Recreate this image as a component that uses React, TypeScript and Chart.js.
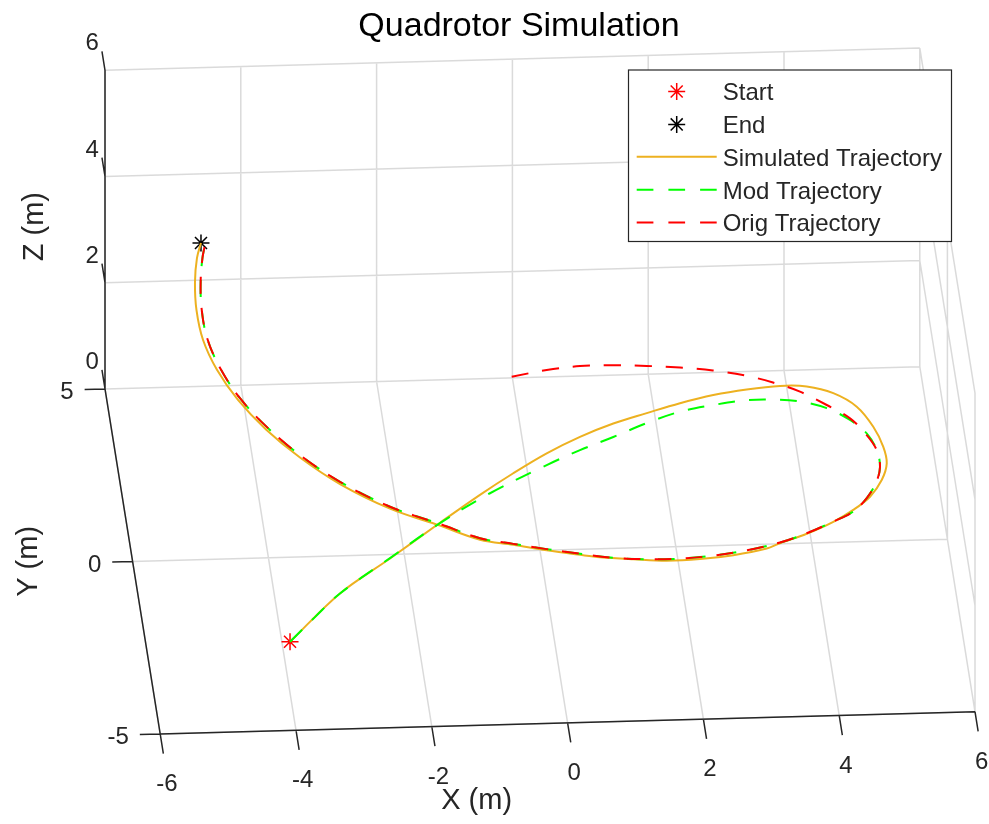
import React, { useEffect, useRef } from 'react';
import { Chart, registerables } from 'chart.js';

Chart.register(...registerables);

const W = 989;
const H = 824;
const FONT = '"Liberation Sans", Arial, Helvetica, sans-serif';

// ---------- texts ----------
const chartTitle = 'Quadrotor Simulation';
const xLabel = 'X (m)';
const yLabel = 'Y (m)';
const zLabel = 'Z (m)';
const legendLabels = ['Start', 'End', 'Simulated Trajectory', 'Mod Trajectory', 'Orig Trajectory'];

// ---------- axes ----------
const xLim = [-6, 6];
const yLim = [-5, 5];
const zLim = [0, 6];
const xTicks = [-6, -4, -2, 0, 2, 4, 6];
const yTicks = [-5, 0, 5];
const zTicks = [0, 2, 4, 6];

// ---------- data (metres) ----------
const startPoint = [-3.88, -2.441, 0];
const endPoint = [-4.624, 4.538, 3.0];

const origX = [-0.07, 0.451, 0.941, 1.42, 1.905, 2.382, 2.85, 3.324, 3.687, 4.054, 4.407, 4.71, 4.908, 5.012, 5.013, 4.909, 4.729, 4.493, 4.169, 3.744, 3.323, 2.809, 2.3, 1.797, 1.3, 0.806, 0.318, -0.167, -0.652, -1.134, -1.695, -2.395, -3.077, -3.609, -4.038, -4.37, -4.601, -4.728, -4.746, -4.7, -4.63, -4.582];
const origY = [4.266, 4.338, 4.334, 4.244, 4.103, 3.937, 3.72, 3.447, 3.14, 2.765, 2.267, 1.771, 1.183, 0.648, 0.07, -0.49, -1.018, -1.488, -1.854, -2.262, -2.6, -2.892, -3.109, -3.263, -3.345, -3.368, -3.334, -3.266, -3.18, -3.083, -2.732, -2.287, -1.62, -0.911, -0.162, 0.594, 1.382, 2.165, 2.941, 3.656, 4.196, 4.419];
const origZ = [0.5, 0.56, 0.62, 0.68, 0.74, 0.8, 0.87, 0.93, 0.99, 1.05, 1.11, 1.17, 1.23, 1.29, 1.35, 1.42, 1.48, 1.54, 1.6, 1.66, 1.72, 1.78, 1.84, 1.9, 1.96, 2.02, 2.09, 2.15, 2.21, 2.27, 2.33, 2.39, 2.45, 2.51, 2.57, 2.63, 2.7, 2.76, 2.82, 2.88, 2.94, 3.0];

const modX = [-3.88, -3.465, -3.052, -2.245, -1.439, -0.644, 0.245, 0.759, 1.27, 1.782, 2.289, 2.784, 3.276, 3.659, 4.036, 4.403, 4.708, 4.913, 5.012, 5.013, 4.909, 4.729, 4.493, 4.169, 3.744, 3.323, 2.809, 2.3, 1.797, 1.3, 0.806, 0.318, -0.167, -0.652, -1.134, -1.695, -2.395, -3.077, -3.609, -4.038, -4.37, -4.601, -4.728, -4.746, -4.7, -4.63, -4.582];
const modY = [-2.441, -1.858, -1.304, -0.443, 0.417, 1.134, 1.796, 2.093, 2.34, 2.591, 2.789, 2.846, 2.854, 2.743, 2.543, 2.221, 1.755, 1.248, 0.648, 0.07, -0.49, -1.018, -1.488, -1.854, -2.262, -2.6, -2.892, -3.109, -3.263, -3.345, -3.368, -3.334, -3.266, -3.18, -3.083, -2.732, -2.287, -1.62, -0.911, -0.162, 0.594, 1.382, 2.165, 2.941, 3.656, 4.196, 4.419];
const modZ = [0, 0.07, 0.14, 0.22, 0.29, 0.36, 0.43, 0.5, 0.57, 0.65, 0.72, 0.79, 0.86, 0.93, 1.01, 1.08, 1.15, 1.22, 1.29, 1.35, 1.42, 1.48, 1.54, 1.6, 1.66, 1.72, 1.78, 1.84, 1.9, 1.96, 2.02, 2.09, 2.15, 2.21, 2.27, 2.33, 2.39, 2.45, 2.51, 2.57, 2.63, 2.7, 2.76, 2.82, 2.88, 2.94, 3.0];

const simX = [-3.88, -3.043, -2.236, -1.429, -0.786, -0.256, 0.272, 0.79, 1.301, 1.806, 2.308, 2.807, 3.301, 3.789, 4.169, 4.535, 4.838, 5.025, 5.116, 5.12, 5.0, 4.782, 4.498, 4.17, 3.744, 3.323, 3.109, 2.597, 2.091, 1.592, 1.098, 0.607, 0.312, -0.173, -0.658, -1.14, -1.701, -2.402, -3.085, -3.617, -4.057, -4.406, -4.651, -4.793, -4.825, -4.789, -4.711, -4.624];
const simY = [-2.441, -1.194, -0.333, 0.536, 1.203, 1.693, 2.133, 2.476, 2.727, 2.879, 3.032, 3.135, 3.163, 3.13, 2.971, 2.649, 2.134, 1.434, 0.739, 0.166, -0.402, -0.965, -1.425, -1.846, -2.262, -2.605, -2.823, -3.081, -3.261, -3.373, -3.397, -3.404, -3.411, -3.346, -3.251, -3.156, -2.811, -2.371, -1.715, -1.009, -0.265, 0.519, 1.311, 2.097, 2.878, 3.597, 4.198, 4.538];
const simZ = [0, 0.07, 0.14, 0.22, 0.29, 0.36, 0.43, 0.5, 0.57, 0.65, 0.72, 0.79, 0.86, 0.93, 1.01, 1.08, 1.15, 1.22, 1.29, 1.35, 1.41, 1.47, 1.53, 1.59, 1.65, 1.71, 1.76, 1.82, 1.88, 1.94, 2.0, 2.06, 2.12, 2.18, 2.24, 2.29, 2.35, 2.41, 2.47, 2.53, 2.59, 2.65, 2.71, 2.77, 2.82, 2.88, 2.94, 3.0];

// ---------- 3D view (orthographic camera, world -> page units) ----------
const VIEW = {
  origin: [540, 550.3],
  ex: [67.9, -1.85],
  ey: [-5.52, -34.5],
  ez: [0, -53.1],
};
const project = (x: number, y: number, z: number) => ({
  x: VIEW.origin[0] + x * VIEW.ex[0] + y * VIEW.ey[0] + z * VIEW.ez[0],
  y: VIEW.origin[1] + x * VIEW.ex[1] + y * VIEW.ey[1] + z * VIEW.ez[1],
});

const X_TICK_LEN = 0.57; // in y units
const Y_TICK_LEN = 0.3; // in x units
const Z_TICK_LEN = 0.55; // in y units

type P3 = [number, number, number];
const GAP = { x: NaN, y: NaN };
const segData = (segs: [P3, P3][]) =>
  segs.flatMap(([a, b]) => [project(a[0], a[1], a[2]), project(b[0], b[1], b[2]), GAP]);

const curve = (xs: number[], ys: number[], zs: number[]) => xs.map((x, i) => project(x, ys[i], zs[i]));

function buildGrid(): [P3, P3][] {
  const [x0, x1] = xLim, [y0, y1] = yLim, [z0, z1] = zLim;
  const s: [P3, P3][] = [];
  xTicks.forEach((x) => s.push([[x, y0, z0], [x, y1, z0]]));
  yTicks.forEach((y) => s.push([[x0, y, z0], [x1, y, z0]]));
  xTicks.forEach((x) => s.push([[x, y1, z0], [x, y1, z1]]));
  zTicks.forEach((z) => s.push([[x0, y1, z], [x1, y1, z]]));
  yTicks.forEach((y) => s.push([[x1, y, z0], [x1, y, z1]]));
  zTicks.forEach((z) => s.push([[x1, y0, z], [x1, y1, z]]));
  return s;
}

function buildAxes(): [P3, P3][] {
  const [x0, x1] = xLim, [y0, y1] = yLim, [z0, z1] = zLim;
  const s: [P3, P3][] = [
    [[x0, y0, z0], [x1, y0, z0]],
    [[x0, y0, z0], [x0, y1, z0]],
    [[x0, y1, z0], [x0, y1, z1]],
  ];
  xTicks.forEach((x) => s.push([[x, y0, z0], [x, y0 - X_TICK_LEN, z0]]));
  yTicks.forEach((y) => s.push([[x0, y, z0], [x0 - Y_TICK_LEN, y, z0]]));
  zTicks.forEach((z) => s.push([[x0, y1, z], [x0, y1 + Z_TICK_LEN, z]]));
  return s;
}

const COLORS = {
  start: '#FF0000',
  end: '#000000',
  sim: '#EDB120',
  mod: '#00FF00',
  orig: '#FF0000',
  axis: '#262626',
  grid: 'rgba(38,38,38,0.17)',
};
const DASH = [17, 14];

function drawStar(ctx: CanvasRenderingContext2D, x: number, y: number, r: number, color: string) {
  ctx.save();
  ctx.strokeStyle = color;
  ctx.lineWidth = 1.5;
  ctx.beginPath();
  for (let k = 0; k < 4; k++) {
    const a = (k * Math.PI) / 4;
    ctx.moveTo(x - r * Math.cos(a), y - r * Math.sin(a));
    ctx.lineTo(x + r * Math.cos(a), y + r * Math.sin(a));
  }
  ctx.stroke();
  ctx.restore();
}

const textPlugin = {
  id: 'axes3dText',
  afterDraw(chart: any) {
    const ctx: CanvasRenderingContext2D = chart.ctx;
    const sx = chart.scales.x;
    const sy = chart.scales.y;
    const px = (p: { x: number; y: number }) => [sx.getPixelForValue(p.x), sy.getPixelForValue(p.y)];
    const area = chart.chartArea;
    ctx.save();
    ctx.fillStyle = COLORS.axis;

    // tick labels
    ctx.font = `24px ${FONT}`;
    ctx.textAlign = 'center';
    ctx.textBaseline = 'middle';
    xTicks.forEach((v) => {
      const [a, b] = px(project(v, yLim[0] - X_TICK_LEN, zLim[0]));
      ctx.fillText(String(v), a + 3.5, b + 31);
    });
    ctx.textAlign = 'right';
    yTicks.forEach((v) => {
      const [a, b] = px(project(xLim[0] - Y_TICK_LEN, v, zLim[0]));
      ctx.fillText(String(v), a - 11, b + 3);
    });
    zTicks.forEach((v) => {
      const [a, b] = px(project(xLim[0], yLim[1] + Z_TICK_LEN, v));
      ctx.fillText(String(v), a - 3, b - 7.5);
    });

    // axis labels
    ctx.font = `29px ${FONT}`;
    ctx.textAlign = 'center';
    {
      const [a, b] = px(project(0, yLim[0], zLim[0]));
      ctx.fillText(xLabel, a - 91, b + 78);
    }
    {
      const [a, b] = px(project(xLim[0], 0, zLim[0]));
      ctx.save();
      ctx.translate(a - 104, b);
      ctx.rotate(-Math.PI / 2);
      ctx.fillText(yLabel, 0, 0);
      ctx.restore();
    }
    {
      const [a, b] = px(project(xLim[0], yLim[1], 3));
      ctx.save();
      ctx.translate(a - 70, b - 3);
      ctx.rotate(-Math.PI / 2);
      ctx.fillText(zLabel, 0, 0);
      ctx.restore();
    }

    // title
    ctx.fillStyle = '#000';
    ctx.font = `34px ${FONT}`;
    ctx.textAlign = 'center';
    ctx.textBaseline = 'alphabetic';
    ctx.fillText(chartTitle, area.left + 519, area.top + 36);

    // legend
    const lx = area.left + 628.5, ly = area.top + 70, lw = 323, lh = 171.5;
    ctx.fillStyle = '#fff';
    ctx.fillRect(lx, ly, lw, lh);
    ctx.strokeStyle = COLORS.axis;
    ctx.lineWidth = 1.2;
    ctx.strokeRect(lx, ly, lw, lh);
    const rowY = (i: number) => ly + 21.5 + 32.9 * i;
    const s0 = lx + 8.2, s1 = lx + 88.2, sm = (s0 + s1) / 2;
    drawStar(ctx, sm, rowY(0), 8.5, COLORS.start);
    drawStar(ctx, sm, rowY(1), 8.5, COLORS.end);
    const sample = (i: number, color: string, dash: number[]) => {
      ctx.save();
      ctx.strokeStyle = color;
      ctx.lineWidth = 2;
      ctx.setLineDash(dash);
      ctx.beginPath();
      ctx.moveTo(s0, rowY(i) - 0.5);
      ctx.lineTo(s1, rowY(i) - 0.5);
      ctx.stroke();
      ctx.restore();
    };
    sample(2, COLORS.sim, []);
    sample(3, COLORS.mod, [16.7, 15]);
    sample(4, COLORS.orig, [16.7, 15]);
    ctx.fillStyle = COLORS.axis;
    ctx.font = `24px ${FONT}`;
    ctx.textAlign = 'left';
    ctx.textBaseline = 'alphabetic';
    legendLabels.forEach((t, i) => ctx.fillText(t, lx + 94.2, rowY(i) + 8.3));

    ctx.restore();
  },
};

export default function App() {
  const ref = useRef<HTMLCanvasElement>(null);

  useEffect(() => {
    if (!ref.current) return;
    const lineBase = { showLine: true, pointRadius: 0, pointHoverRadius: 0, fill: false };
    const chart = new Chart(ref.current, {
      type: 'scatter',
      data: {
        datasets: [
          {
            ...lineBase,
            label: 'grid',
            data: segData(buildGrid()),
            borderColor: COLORS.grid,
            borderWidth: 1.5,
            tension: 0,
            order: 9,
          },
          {
            ...lineBase,
            label: 'axes',
            data: segData(buildAxes()),
            borderColor: COLORS.axis,
            borderWidth: 1.5,
            tension: 0,
            order: 8,
          },
          {
            label: legendLabels[0],
            data: [project(startPoint[0], startPoint[1], startPoint[2])],
            showLine: false,
            pointStyle: 'star',
            pointRadius: 8.5,
            pointBorderColor: COLORS.start,
            pointBackgroundColor: COLORS.start,
            pointBorderWidth: 1.5,
            order: 7,
          },
          {
            label: legendLabels[1],
            data: [project(endPoint[0], endPoint[1], endPoint[2])],
            showLine: false,
            pointStyle: 'star',
            pointRadius: 8.5,
            pointBorderColor: COLORS.end,
            pointBackgroundColor: COLORS.end,
            pointBorderWidth: 1.5,
            order: 6,
          },
          {
            ...lineBase,
            label: legendLabels[2],
            data: curve(simX, simY, simZ),
            borderColor: COLORS.sim,
            borderWidth: 2,
            tension: 0.35,
            order: 3,
          },
          {
            ...lineBase,
            label: legendLabels[3],
            data: curve(modX, modY, modZ),
            borderColor: COLORS.mod,
            borderWidth: 2,
            borderDash: DASH,
            tension: 0.35,
            order: 2,
          },
          {
            ...lineBase,
            label: legendLabels[4],
            data: curve(origX, origY, origZ),
            borderColor: COLORS.orig,
            borderWidth: 2,
            borderDash: DASH,
            tension: 0.35,
            order: 1,
          },
        ],
      } as any,
      options: {
        animation: false,
        responsive: false,
        devicePixelRatio: 1,
        events: [],
        layout: { padding: 0, autoPadding: false },
        scales: {
          x: { type: 'linear', min: 0, max: W, display: false },
          y: { type: 'linear', min: 0, max: H, reverse: true, display: false },
        },
        plugins: {
          legend: { display: false },
          title: { display: false },
          tooltip: { enabled: false },
        },
      } as any,
      plugins: [textPlugin],
    });
    return () => chart.destroy();
  }, []);

  return (
    <div style={{ position: 'absolute', left: 0, top: 0, width: W, height: H, background: '#fff' }}>
      <canvas ref={ref} width={W} height={H} style={{ display: 'block', width: W, height: H }} />
    </div>
  );
}
